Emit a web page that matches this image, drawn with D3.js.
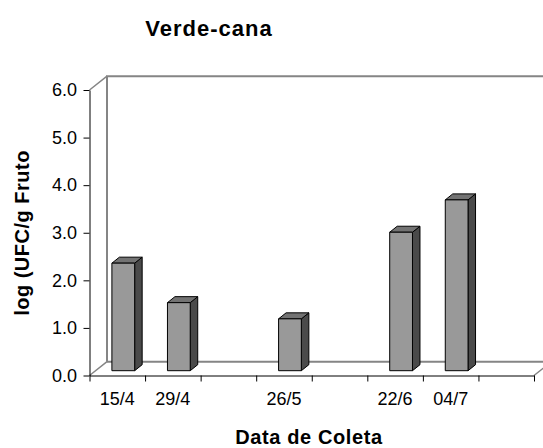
<!DOCTYPE html>
<html><head><meta charset="utf-8">
<script src="https://cdn.jsdelivr.net/npm/d3@7"></script>
<style>
html,body{margin:0;padding:0;background:#fff;}
svg{display:block;}
text{font-family:"Liberation Sans",Arial,sans-serif;}
</style></head>
<body><svg id="c" width="543" height="448"></svg>
<script>
const categories = ["15/4","29/4","","26/5","","22/6","04/7",""];
const values = [2.26, 1.43, null, 1.09, null, 2.91, 3.59, null];
const yTicks = [0,1,2,3,4,5,6];
const title = "Verde-cana";
const xTitle = "Data de Coleta";
const yTitle = "log (UFC/g Fruto";

const svg = d3.select("#c");
const x0 = 89.5, x1 = 534, yB = 375.5, yT = 90;
const DX = 17.5, DY = -13.8;          // full depth of the 3D box
const fdx = 6, fdy = -4.8;            // bar front-face offset
const bdx = 7.5, bdy = -6;            // bar depth

const x = d3.scaleBand().domain(d3.range(categories.length)).range([x0, x1]).padding(0);
const xl = d3.scaleLinear().domain([0, categories.length]).range([x0, x1]);
const y = d3.scaleLinear().domain([0, 6]).range([yB, yT]);

// back walls
const wall = svg.append("g").attr("fill","none").attr("stroke","#858585");
wall.append("path").attr("stroke-width",2)
  .attr("d", `M${x0+DX},${y(0)+DY}V${y(6)+DY}H${x1+DX+20}M${x0+DX},${y(0)+DY}H${x1+DX+20}`);
wall.append("path").attr("stroke-width",1.5)
  .attr("d", `M${x0},${y(6)}L${x0+DX},${y(6)+DY}M${x0},${y(0)}L${x0+DX},${y(0)+DY}M${x1},${y(0)}L${x1+DX},${y(0)+DY}`);

// bars
const bw = x.bandwidth()*0.41;
const bars = svg.append("g").attr("stroke","#000").attr("stroke-width",1).attr("stroke-linejoin","round");
values.forEach((v,i)=>{
  if (v == null) return;
  const lx = x(i) + x.bandwidth()/2 - bw/2 + fdx;
  const rx = lx + bw;
  const top = y(v) + fdy, bot = y(0) + fdy;
  bars.append("path").attr("fill","#4a4a4a")
    .attr("d",`M${rx},${bot}L${rx+bdx},${bot+bdy}L${rx+bdx},${top+bdy}L${rx},${top}Z`);
  bars.append("path").attr("fill","#737373")
    .attr("d",`M${lx},${top}L${lx+bdx},${top+bdy}L${rx+bdx},${top+bdy}L${rx},${top}Z`);
  bars.append("rect").attr("fill","#999999")
    .attr("x",lx).attr("y",top).attr("width",bw).attr("height",bot-top);
});

// y axis
const ya = svg.append("g").attr("transform",`translate(${x0},0)`)
  .call(d3.axisLeft(y).tickValues(yTicks).tickFormat(d3.format(".1f")).tickSize(6).tickSizeOuter(0).tickPadding(6.5));
ya.selectAll("text").attr("font-size",18).attr("fill","#000").attr("font-family",'"Liberation Sans",Arial,sans-serif');
ya.selectAll("line,path").attr("stroke","#000");

// x axis tick marks at boundaries
const xa = svg.append("g").attr("transform",`translate(0,${yB})`)
  .call(d3.axisBottom(xl).tickValues(d3.range(categories.length+1)).tickFormat("").tickSize(6).tickSizeOuter(0));
xa.selectAll("line,path").attr("stroke","#000");
// x labels at band centers
const xb = svg.append("g").attr("transform",`translate(0,${yB})`)
  .call(d3.axisBottom(x).tickFormat(i=>categories[i]).tickSize(0).tickPadding(16.5));
xb.select(".domain").remove();
xb.selectAll("text").attr("font-size",18).attr("fill","#000").attr("font-family",'"Liberation Sans",Arial,sans-serif');

// titles
svg.append("text").attr("x",209).attr("y",36).attr("text-anchor","middle")
  .attr("font-size",22).attr("font-weight","bold").attr("letter-spacing","1px").text(title);
svg.append("text").attr("x",309).attr("y",444).attr("text-anchor","middle")
  .attr("font-size",20).attr("font-weight","bold").attr("letter-spacing","0.6px").text(xTitle);
svg.append("text").attr("transform","translate(29,233) rotate(-90)").attr("text-anchor","middle")
  .attr("font-size",20).attr("font-weight","bold").attr("letter-spacing","0.5px").text(yTitle);
</script></body></html>
